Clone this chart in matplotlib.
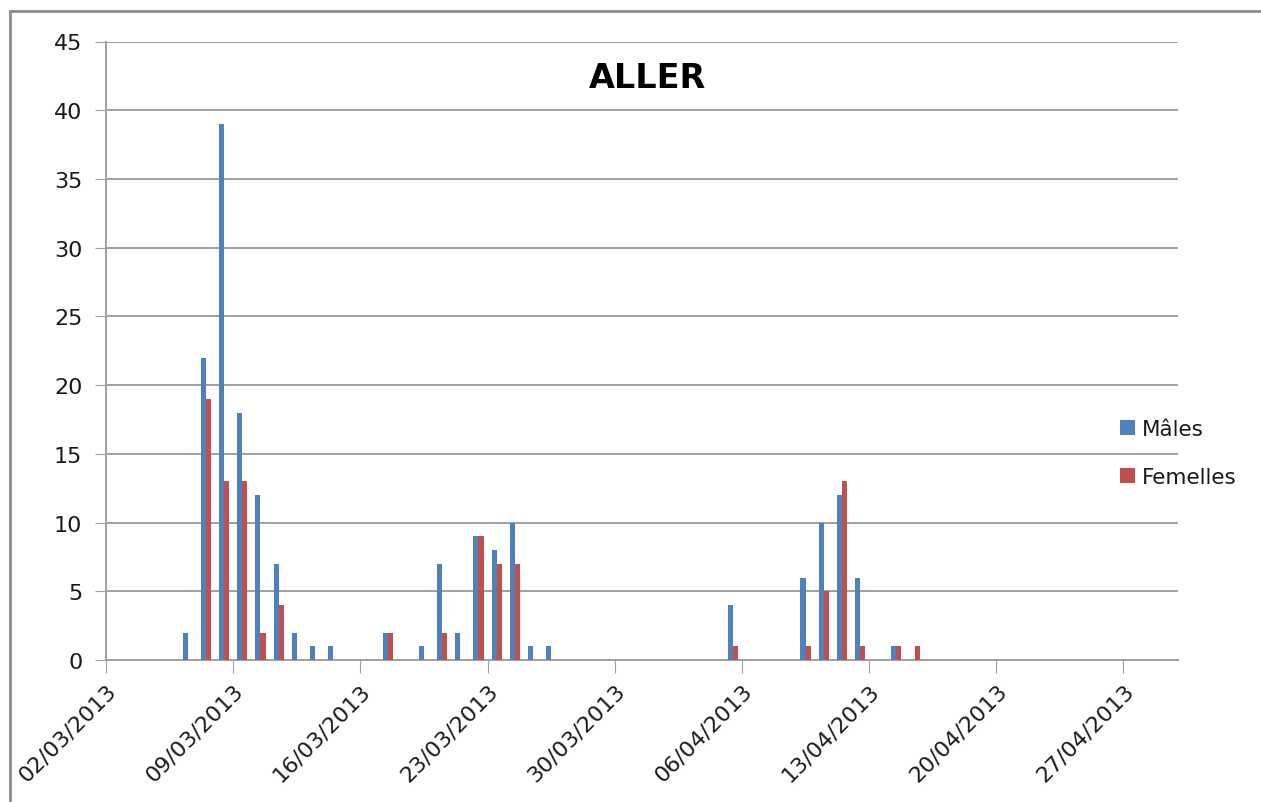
import pandas as pd
import numpy as np
import matplotlib
matplotlib.use('Agg')
import matplotlib.pyplot as plt
import matplotlib.dates as mdates
import matplotlib.transforms as mtransforms
from matplotlib.patches import Rectangle

plt.rcParams['font.family'] = ['DejaVu Sans']

# daily counts (days with no bird left out)
dates = ['06/03/2013', '07/03/2013', '08/03/2013', '09/03/2013', '10/03/2013',
         '11/03/2013', '12/03/2013', '13/03/2013', '14/03/2013', '17/03/2013',
         '19/03/2013', '20/03/2013', '21/03/2013', '22/03/2013', '23/03/2013',
         '24/03/2013', '25/03/2013', '26/03/2013', '05/04/2013', '09/04/2013',
         '10/04/2013', '11/04/2013', '12/04/2013', '14/04/2013', '15/04/2013']
males = [2, 22, 39, 18, 12, 7, 2, 1, 1, 2,
         1, 7, 2, 9, 8, 10, 1, 1, 4, 6,
         10, 12, 6, 1, 0]
females = [0, 19, 13, 13, 2, 4, 0, 0, 0, 2,
           0, 2, 0, 9, 7, 7, 0, 0, 1, 1,
           5, 13, 1, 1, 1]
tick_dates = ['02/03/2013', '09/03/2013', '16/03/2013', '23/03/2013', '30/03/2013',
              '06/04/2013', '13/04/2013', '20/04/2013', '27/04/2013']

x = mdates.date2num(pd.to_datetime(dates, dayfirst=True))
xt = mdates.date2num(pd.to_datetime(tick_dates, dayfirst=True))

blue = '#4F81BD'
red = '#C0504D'
grid_c = '#A0A0A0'
txt_c = '#1a1a1a'

fig = plt.figure(figsize=(12.61, 8.03), dpi=100)
fig.patches.append(Rectangle((10 / 1261, -0.1), 1.2, 1.1 - 12 / 803, transform=fig.transFigure,
                             fill=False, edgecolor='#8c8c8c', linewidth=2))
ax = fig.add_axes([106 / 1261, 1 - 661 / 803, 1072 / 1261, (661 - 42.5) / 803])

w = 0.28
ax.bar(x + 0.5 - w / 2, males, width=w, color=blue, linewidth=0, label='Mâles', zorder=3)
ax.bar(x + 0.5 + w / 2, females, width=w, color=red, linewidth=0, label='Femelles', zorder=3)

ax.set_xlim(xt[0], xt[0] + 59)
ax.set_ylim(0, 45)
ax.set_yticks(np.arange(0, 46, 5))
ax.set_xticks(xt)
ax.set_xticklabels(tick_dates, rotation=45, ha='right', va='top',
                   rotation_mode='anchor', fontsize=16, color=txt_c)
offset = mtransforms.ScaledTranslation(18 / 100, 0, fig.dpi_scale_trans)
for lbl in ax.get_xticklabels():
    lbl.set_transform(lbl.get_transform() + offset)
ax.tick_params(axis='y', labelsize=16, labelcolor=txt_c, length=8, color=grid_c, pad=9)
ax.tick_params(axis='x', length=9, color=grid_c, pad=5)

ax.grid(axis='y', color=grid_c, linewidth=1.4, zorder=0)
ax.set_axisbelow(True)
for s in ['top', 'right']:
    ax.spines[s].set_visible(False)
ax.spines['left'].set_color(grid_c)
ax.spines['bottom'].set_color(grid_c)
ax.spines['left'].set_linewidth(1.4)
ax.spines['bottom'].set_linewidth(1.4)

fig.text(647.5 / 1261, 1 - 78 / 803, 'ALLER', ha='center', va='center',
         fontsize=24, fontweight='bold', color='black')

leg = ax.legend(loc='center left', bbox_to_anchor=(1120 / 1261, 1 - 454 / 803),
                bbox_transform=fig.transFigure, frameon=False, fontsize=15.5,
                handlelength=0.7, handleheight=0.7, handletextpad=0.3,
                labelspacing=1.3, borderaxespad=0, borderpad=0)
for t in leg.get_texts():
    t.set_color(txt_c)

fig.savefig('out.png', dpi=100)
